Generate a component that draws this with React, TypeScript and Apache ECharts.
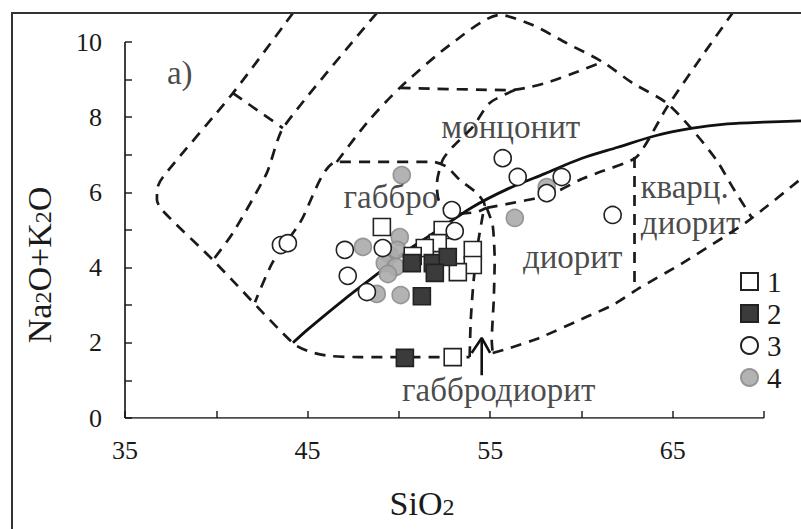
import React, { useEffect, useRef } from 'react';
import * as echarts from 'echarts';

// ---- axis ticks ----
const xLabelValues = [35, 45, 55, 65];
const yLabelValues = [0, 2, 4, 6, 8, 10];

// ---- sample points (SiO2, Na2O+K2O) ----
const group1: number[][] = [
  [49.07, 5.08], [52.4, 5.0], [52.13, 4.65], [51.42, 4.52], [50.76, 4.31],
  [54.05, 4.47], [54.05, 4.07], [53.23, 3.88], [52.95, 1.62],
];
const group2: number[][] = [
  [50.71, 4.12], [51.86, 4.12], [52.68, 4.28], [51.97, 3.86], [51.26, 3.24], [50.33, 1.6],
];
const group3: number[][] = [
  [43.54, 4.6], [43.92, 4.65], [47.04, 4.47], [49.12, 4.52], [47.2, 3.78], [48.25, 3.35],
  [52.9, 5.53], [53.06, 4.97], [55.69, 6.91], [56.51, 6.41], [58.92, 6.41], [58.1, 5.98],
  [61.71, 5.4],
];
const group4: number[][] = [
  [50.16, 6.46], [48.03, 4.55], [50.05, 4.81], [49.5, 4.34], [49.23, 4.12], [49.83, 4.02],
  [49.4, 3.83], [48.79, 3.3], [50.1, 3.27], [58.1, 6.14], [56.35, 5.32], [49.9, 4.47],
];

// ---- alkaline / subalkaline divide (solid) ----
const alkaliLine: number[][] = [
  [44.2, 2.0], [45, 2.35], [47, 3.15], [49, 3.9], [50, 4.3], [52, 4.95], [54, 5.6],
  [56, 6.1], [58, 6.5], [60, 6.9], [62, 7.2], [64, 7.5], [66, 7.7], [68, 7.82],
  [70, 7.87], [72.03, 7.9],
];

// ---- field boundaries (dashed) ----
const outerBoundary: number[][] = [
  [44.2, 10.77], [40.91, 8.64], [37.08, 6.41], [36.75, 6.06], [36.75, 5.8], [37.03, 5.53],
  [39.82, 4.2], [44.2, 1.99], [45.13, 1.76], [46.22, 1.65], [47.86, 1.62], [53.88, 1.62],
];
const gabbroField: number[][] = [
  [53.88, 1.62], [53.94, 2.61], [54.1, 3.67], [54.32, 4.6], [54.6, 5.4], [54.7, 5.66],
  [54.27, 5.98], [53.34, 6.33], [52.62, 6.68], [51.86, 6.81], [46.6, 6.81],
  [44.58, 5.19], [43.1, 4.15], [42.12, 3.08],
];
const crossPiece: number[][] = [[40.91, 8.64], [43.65, 7.71]];
const ijoliteRight: number[][] = [
  [48.79, 10.77], [43.65, 7.71], [42.77, 6.52], [40.91, 4.92], [39.82, 4.2],
];
const syeniteArc: number[][] = [
  [46.6, 6.81], [48.25, 7.85], [50.05, 8.78], [52.79, 9.92], [55.53, 10.72], [57.33, 10.45],
  [59.19, 9.97], [61.16, 9.47], [62.8, 8.91], [64.67, 8.38], [66.09, 7.66], [67.4, 6.86],
  [68.28, 6.14], [69.37, 5.3],
];
const monzoniteTop: number[][] = [
  [50.05, 8.78], [56.07, 8.72], [57.0, 8.78], [58.26, 8.94], [59.74, 9.2], [61.16, 9.47],
];
const monzoniteBottom: number[][] = [
  [56.35, 8.72], [54.98, 8.38], [54.05, 7.74], [52.95, 7.21], [52.4, 6.86], [52.08, 6.2],
  [52.24, 5.72], [53.06, 5.43], [54.27, 5.48], [54.81, 5.59],
];
const dioriteTop: number[][] = [
  [54.81, 5.59], [56.24, 5.72], [57.55, 5.85], [58.81, 6.06], [59.9, 6.33], [61.0, 6.54],
  [63.02, 6.94], [64.67, 8.25], [66.5, 9.55], [68.28, 10.77],
];
const dioriteLeft: number[][] = [
  [54.81, 5.59], [55.14, 5.13], [55.25, 4.2], [55.2, 3.14], [55.09, 2.07], [55.14, 1.73],
];
const lowerRight: number[][] = [
  [55.14, 1.73], [56.07, 1.86], [57.7, 2.13], [60.29, 2.69], [61.71, 3.0], [63.19, 3.46],
  [65.54, 4.12], [69.04, 5.21], [72.03, 6.36],
];
const quartzDioriteLeft: number[][] = [[62.91, 6.94], [62.91, 3.4]];

// ---- arrow to габбродиорит ----
const arrowShaft: number[][] = [[54.54, 1.14], [54.54, 2.13]];
const arrowHead: number[][] = [[53.99, 1.73], [54.54, 2.13], [55.0, 1.73]];

// ---- axis lines (drawn only over the labelled range) ----
const xAxisLine: number[][] = [[35, 0], [70, 0]];
const yAxisLine: number[][] = [[35, 0], [35, 10]];

// ---- field names ----
const fieldNames = ['а)', 'монцонит', 'габбро', 'кварц.', 'диорит', 'диорит', 'габбродиорит'];
const fieldPositions: number[][] = [
  [38.0, 9.18], [56.13, 7.74], [49.56, 5.88], [65.65, 6.14], [65.98, 5.19], [59.52, 4.28], [55.47, 0.74],
];

const FONT = 'Liberation Serif, DejaVu Serif, serif';

export default function App() {
  const ref = useRef<HTMLDivElement>(null);
  useEffect(() => {
    if (!ref.current) return;
    const chart = echarts.init(ref.current, undefined, { renderer: 'svg' });
    const dashStyle = { color: '#1a1a1a', width: 2.7, type: [11, 8] };
    const dashed = (data: number[][], smooth = 0.2) => ({
      type: 'line', data, symbol: 'none', smooth, xAxisIndex: 1, yAxisIndex: 1,
      silent: true, z: 2, lineStyle: dashStyle, emphasis: { disabled: true },
    });
    const solid = (data: number[][], smooth: number | boolean = false, width = 2.8) => ({
      type: 'line', data, symbol: 'none', smooth, xAxisIndex: 1, yAxisIndex: 1,
      silent: true, z: 3, lineStyle: { color: '#111', width, type: 'solid' }, emphasis: { disabled: true },
    });
    const pointSeries = (name: string, data: number[][], symbol: string, fill: string, border: string, z: number, opacity = 1) => ({
      name, type: 'scatter', data, symbol, symbolSize: 17, z, clip: false,
      itemStyle: { color: fill, borderColor: border, borderWidth: 1.6, opacity },
      emphasis: { disabled: true },
    });
    const tickStyle = { inside: true, length: 7, lineStyle: { color: '#333', width: 1.6 } };
    chart.setOption({
      animation: false,
      backgroundColor: '#fff',
      grid: [
        { left: 125, right: 37, top: 42, bottom: 111, containLabel: false },
        { left: 125, right: 0, top: 13, bottom: 111, containLabel: false },
      ],
      xAxis: [
        {
          type: 'value', min: 35, max: 70, interval: 5, gridIndex: 0,
          name: 'SiO{s|2}', nameLocation: 'middle', nameGap: 68,
          nameTextStyle: {
            fontFamily: FONT, fontSize: 34, color: '#1a1a1a', padding: [0, 45, 0, 0],
            rich: { s: { fontFamily: FONT, fontSize: 24, color: '#1a1a1a', padding: [8, 0, 0, 0] } },
          },
          axisLine: { show: false },
          axisTick: tickStyle,
          axisLabel: {
            margin: 19, fontFamily: FONT, fontSize: 26, color: '#1a1a1a',
            formatter: (v: number) => (xLabelValues.includes(v) ? String(v) : ''),
          },
          splitLine: { show: false },
        },
        { type: 'value', min: 35, max: 72.03, gridIndex: 1, show: false },
      ],
      yAxis: [
        {
          type: 'value', min: 0, max: 10, interval: 1, gridIndex: 0,
          name: 'Na{s|2}O+K{s|2}O', nameLocation: 'middle', nameGap: 69, nameRotate: 90,
          nameTextStyle: {
            fontFamily: FONT, fontSize: 34, color: '#1a1a1a', padding: [0, 70, 0, 0],
            rich: { s: { fontFamily: FONT, fontSize: 24, color: '#1a1a1a', padding: [8, 0, 0, 0] } },
          },
          axisLine: { show: false },
          axisTick: tickStyle,
          axisLabel: {
            margin: 23, fontFamily: FONT, fontSize: 26, color: '#1a1a1a',
            formatter: (v: number) => (yLabelValues.includes(v) ? String(v) : ''),
          },
          splitLine: { show: false },
        },
        { type: 'value', min: 0, max: 10.771, gridIndex: 1, show: false },
      ],
      legend: {
        data: ['1', '2', '3', '4'], orient: 'vertical', left: 735, top: 262,
        itemWidth: 17, itemHeight: 17, itemGap: 3,
        textStyle: { fontFamily: FONT, fontSize: 29, color: '#1a1a1a', lineHeight: 28, padding: [0, 0, 0, 4] },
        selectedMode: false,
      },
      graphic: [
        { type: 'rect', shape: { x: 12, y: 13, width: 800, height: 530 }, style: { fill: 'none', stroke: '#333', lineWidth: 2 }, silent: true, z: 100 },
      ],
      series: [
        solid(xAxisLine, false, 1.6),
        solid(yAxisLine, false, 1.6),
        dashed(outerBoundary, 0.25),
        dashed(gabbroField, 0.25),
        dashed(crossPiece, 0),
        dashed(ijoliteRight, 0.2),
        dashed(syeniteArc, 0.25),
        dashed(monzoniteTop, 0.2),
        dashed(monzoniteBottom, 0.25),
        dashed(dioriteTop, 0.2),
        dashed(dioriteLeft, 0.2),
        dashed(lowerRight, 0.2),
        dashed(quartzDioriteLeft, 0),
        solid(alkaliLine, 0.3),
        solid(arrowShaft, false, 2.6),
        solid(arrowHead, false, 2.6),
        pointSeries('4', group4, 'circle', '#ababab', '#8e8e8e', 5, 0.9),
        pointSeries('1', group1, 'rect', '#ffffff', '#222222', 6),
        pointSeries('2', group2, 'rect', '#3b3b3b', '#222222', 7),
        pointSeries('3', group3, 'circle', '#ffffff', '#222222', 8),
        {
          type: 'scatter', silent: true, symbolSize: 0, z: 10, clip: false,
          data: fieldNames.map((n, i) => ({ name: n, value: fieldPositions[i] })),
          label: {
            show: true, position: 'inside', formatter: '{b}',
            fontFamily: FONT, fontSize: 33, color: '#1a1a1a',
          },
          emphasis: { disabled: true },
        },
      ],
    });
    return () => chart.dispose();
  }, []);
  return <div ref={ref} style={{ position: 'fixed', left: 0, top: 0, width: 801, height: 529 }} />;
}
